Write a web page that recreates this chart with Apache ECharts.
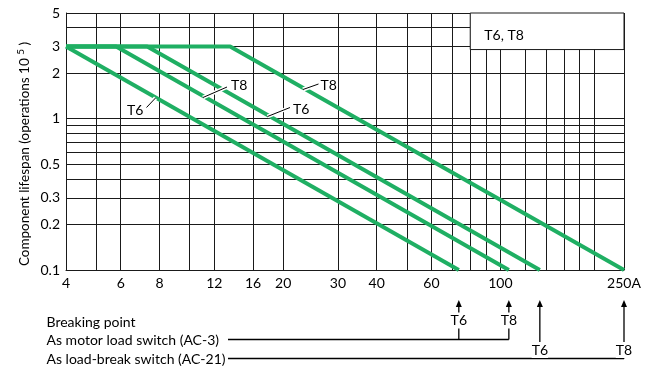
<!DOCTYPE html>
<html><head><meta charset="utf-8">
<script src="https://cdn.jsdelivr.net/npm/echarts@6/dist/echarts.min.js"></script>
<style>html,body{margin:0;padding:0;background:#fff}#c{width:655px;height:372px}</style>
</head><body><div id="c"></div>
<script>
// ---- data ----
const xGridValues = [4,5,6,8,10,12,16,20,30,40,50,60,70,80,90,100,120,140,160,180,200,250];
const xTickLabels = [4,6,8,12,16,20,30,40,60,100,250];
const yGridValues = [0.1,0.2,0.3,0.4,0.5,0.6,0.7,0.8,0.9,1,2,3,4,5];
const yTickLabels = [0.1,0.2,0.3,0.5,1,2,3,5];
const t6Ac3  = [[4,3],[73.5,0.1]];
const t8Ac3  = [[4,3],[5.8,3],[106.5,0.1]];
const t6Ac21 = [[4,3],[7.3,3],[134,0.1]];
const t8Ac21 = [[4,3],[13.5,3],[250,0.1]];
const breakAc3  = [{name:'T6', value:73.5}, {name:'T8', value:106.5}];
const breakAc21 = [{name:'T6', value:134},  {name:'T8', value:250}];
const legendBoxText = 'T6, T8';
const yTitle = 'Component lifespan (operations 10 ';
const rowTexts = ['Breaking point', 'As motor load switch (AC-3)', 'As load-break switch (AC-21)'];

const FONT = 'Lato';
const FS = 14;
const GREEN = '#1faf63';
const GRID = '#1a1a1a';

const chart = echarts.init(document.getElementById('c'), null, {renderer:'canvas'});
const mkLine = (name, data) => ({
  name, type:'line', data, symbol:'none', z:5,
  lineStyle:{color:GREEN, width:4}, animation:false
});
chart.setOption({
  animation:false,
  grid:{left:66, right:31, top:13, bottom:102, containLabel:false},
  xAxis:{
    type:'log', logBase:10, min:4, max:250,
    axisLine:{show:true, onZero:false, lineStyle:{color:GRID, width:1}},
    axisTick:{show:false, customValues:xGridValues},
    splitLine:{show:true, lineStyle:{color:GRID, width:1}},
    minorSplitLine:{show:false},
    axisLabel:{customValues:xTickLabels, color:'#000', fontFamily:FONT, fontSize:FS, margin:6,
      formatter:v => (Math.abs(v-250)<1e-6 ? '250A' : String(Math.round(v)))}
  },
  yAxis:{
    type:'log', logBase:10, min:0.1, max:5,
    axisLine:{show:true, onZero:false, lineStyle:{color:GRID, width:1}},
    axisTick:{show:false, customValues:yGridValues},
    splitLine:{show:true, lineStyle:{color:GRID, width:1}},
    axisLabel:{customValues:yTickLabels, color:'#000', fontFamily:FONT, fontSize:FS, margin:6,
      formatter:v => String(+v.toFixed(2))}
  },
  series:[mkLine('T6 AC-3', t6Ac3), mkLine('T8 AC-3', t8Ac3), mkLine('T6 AC-21', t6Ac21), mkLine('T8 AC-21', t8Ac21)]
});

const px = (x, y) => chart.convertToPixel({gridIndex:0}, [x, y]);
const txt = (text, x, y, opts) => Object.assign({
  type:'text', x, y, z:20,
  style:Object.assign({text, fill:'#000', font:FS + 'px ' + FONT, align:'left', verticalAlign:'middle'}, (opts||{}).style||{})
}, opts && opts.rest || {});
const seg = (x1,y1,x2,y2,w,c,z) => ({type:'line', z:z||20, shape:{x1,y1,x2,y2}, style:{stroke:c||'#000', lineWidth:w||1}});

const g = [];
// legend box at top right
const bl = px(80, 5), br = px(250, 3);
g.push({type:'rect', z:10, shape:{x:bl[0], y:bl[1], width:br[0]-bl[0], height:br[1]+3-bl[1]},
  style:{fill:'#fff', stroke:GRID, lineWidth:1}});
g.push(txt(legendBoxText, bl[0]+14, bl[1]+22));

// leader labels on curves
const leaders = [
  {t:'T6', tx:127, ty:110, l:[146.5,107.5,155.5,98]},
  {t:'T8', tx:231, ty:85,  l:[203,97.5,227,87]},
  {t:'T6', tx:293, ty:109, l:[267.5,116.5,290,107.5]},
  {t:'T8', tx:320.5, ty:85, l:[303,89.5,318.5,84]}
];
leaders.forEach(d => {
  g.push(seg(d.l[0],d.l[1],d.l[2],d.l[3],4,'#fff',8));
  g.push(seg(d.l[0],d.l[1],d.l[2],d.l[3],1,'#000',21));
  g.push(txt(d.t, d.tx, d.ty));
});

// y-axis title (rotated)
g.push({type:'text', x:25, y:154, rotation:Math.PI/2, z:20,
  style:{text:'{a|' + yTitle + '}{s|5}{a| )}', align:'center', verticalAlign:'middle',
    rich:{a:{font:'13.5px ' + FONT, fill:'#000', lineHeight:18}, s:{font:'10px ' + FONT, fill:'#000', verticalAlign:'top', lineHeight:18, padding:[0,0,6,0]}}}});

// bottom annotation rows
const rowY = [322, 340.5, 359];
rowTexts.forEach((t,i) => g.push(txt(t, 46.5, rowY[i])));
const lineStartX = 228;
const arrow = (x, yBase, yTip) => {
  g.push(seg(x, yBase, x, yTip+5, 1.3));
  g.push({type:'polygon', z:20, shape:{points:[[x-3,yTip+7],[x,yTip],[x+3,yTip+7]]}, style:{fill:'#000'}});
};
const rowLine = (arr, yLine, labelY) => {
  const xs = arr.map(b => px(b.value, 0.1)[0]);
  g.push(seg(lineStartX, yLine, xs[xs.length-1], yLine, 1.3));
  arr.forEach((b, i) => {
    arrow(xs[i], yLine, 300);
    g.push(txt(b.name, xs[i], labelY, {style:{align:'center', backgroundColor:'#fff', padding:[1,0,1,0]}}));
  });
};
rowLine(breakAc3, 339.5, 320.5);
rowLine(breakAc21, 358.5, 350);

chart.setOption({graphic:g});
</script></body></html>
